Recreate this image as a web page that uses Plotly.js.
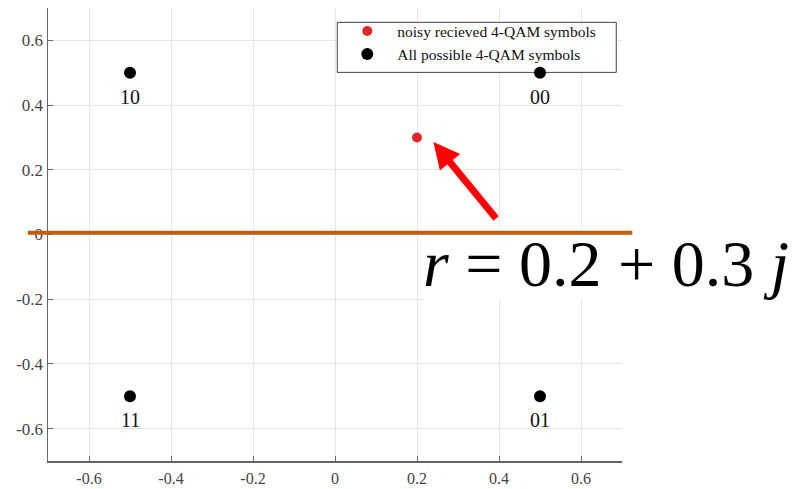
<!DOCTYPE html>
<html>
<head>
<meta charset="utf-8">
<script src="https://cdn.plot.ly/plotly-3.0.1.min.js"></script>
<style>html,body{margin:0;padding:0;background:#fff;}#chart{width:793px;height:489px;}</style>
</head>
<body>
<div id="chart"></div>
<script>
// Data
const idealI = [0.5, -0.5, -0.5, 0.5];
const idealQ = [0.5, 0.5, -0.5, -0.5];
const idealLabels = ['00', '10', '11', '01'];
const rxI = [0.2];
const rxQ = [0.3];
const legendNames = ['noisy recieved 4-QAM symbols', 'All possible 4-QAM symbols'];
const xTicks = [-0.6, -0.4, -0.2, 0, 0.2, 0.4, 0.6];
const yTicks = [-0.6, -0.4, -0.2, 0, 0.2, 0.4, 0.6];
const equationText = '<i>r</i> = 0.2 + 0.3 <i>j</i>';

const serif = 'Liberation Serif, Times New Roman, serif';

const traces = [
  {
    x: rxI, y: rxQ, type: 'scatter', mode: 'markers', name: legendNames[0],
    marker: {color: '#e2262c', size: 10}
  },
  {
    x: idealI, y: idealQ, type: 'scatter', mode: 'markers', name: legendNames[1],
    marker: {color: '#000000', size: 12}
  }
];

const annotations = idealLabels.map((t, i) => ({
  x: idealI[i], y: idealQ[i], xref: 'x', yref: 'y', text: t, showarrow: false,
  yshift: -24, font: {family: serif, size: 20, color: '#111'}
}));

// arrow pointing to the received symbol
annotations.push({
  x: 0.24, y: 0.286, xref: 'x', yref: 'y', text: '', showarrow: true,
  ax: 64, ay: 78, arrowcolor: '#ff0000', arrowwidth: 7, arrowhead: 2, arrowsize: 0.75,
  standoff: 0
});

// equation
annotations.push({
  x: 0.652, y: 0.436, xref: 'paper', yref: 'paper', xanchor: 'left', yanchor: 'middle',
  text: equationText, showarrow: false, bgcolor: '#ffffff', borderpad: 0,
  font: {family: serif, size: 66, color: '#000'}
});

// orange horizontal marker line (drawn over the equation box)
annotations.push({
  x: 1.018, y: 0.5036, xref: 'paper', yref: 'paper', text: '', showarrow: true,
  ax: -606, ay: 0, arrowhead: 0, arrowwidth: 4, arrowcolor: '#c55a11',
  standoff: 0, startstandoff: 0
});

const layout = {
  width: 793, height: 489,
  margin: {l: 48, r: 171, t: 8, b: 28, pad: 0},
  paper_bgcolor: '#fff', plot_bgcolor: '#fff',
  font: {family: serif, color: '#444'},
  showlegend: true,
  legend: {
    x: 0.504, y: 0.986, xanchor: 'left', yanchor: 'top',
    bgcolor: 'rgba(0,0,0,0)', borderwidth: 0,
    font: {family: serif, size: 15.5, color: '#111'},
    itemwidth: 50, tracegroupgap: 0
  },
  xaxis: {
    range: [-0.7, 0.7], tickvals: xTicks, ticktext: xTicks.map(String),
    showgrid: true, gridcolor: '#e6e6e6', zeroline: false,
    showline: true, linecolor: '#666', linewidth: 1.5, mirror: false,
    ticks: 'inside', ticklen: 5, tickcolor: '#666', ticklabelstandoff: 2,
    tickfont: {family: serif, size: 16, color: '#444'}
  },
  yaxis: {
    range: [-0.7, 0.7], tickvals: yTicks, ticktext: yTicks.map(String),
    showgrid: true, gridcolor: '#e6e6e6', zeroline: false,
    showline: true, linecolor: '#666', linewidth: 1.5, mirror: false,
    ticks: 'inside', ticklen: 5, tickcolor: '#666', ticklabelshift: 0,
    tickfont: {family: serif, size: 17, color: '#444'}
  },
  shapes: [
    // legend box (drawn above grid, below markers)
    {type: 'rect', xref: 'x', yref: 'y', x0: 0.0056, x1: 0.686, y0: 0.501, y1: 0.6556,
     fillcolor: '#ffffff', line: {color: '#444', width: 1}, layer: 'between'}
  ],
  annotations: annotations
};

Plotly.newPlot('chart', traces, layout, {displayModeBar: false, staticPlot: true});
</script>
</body>
</html>
